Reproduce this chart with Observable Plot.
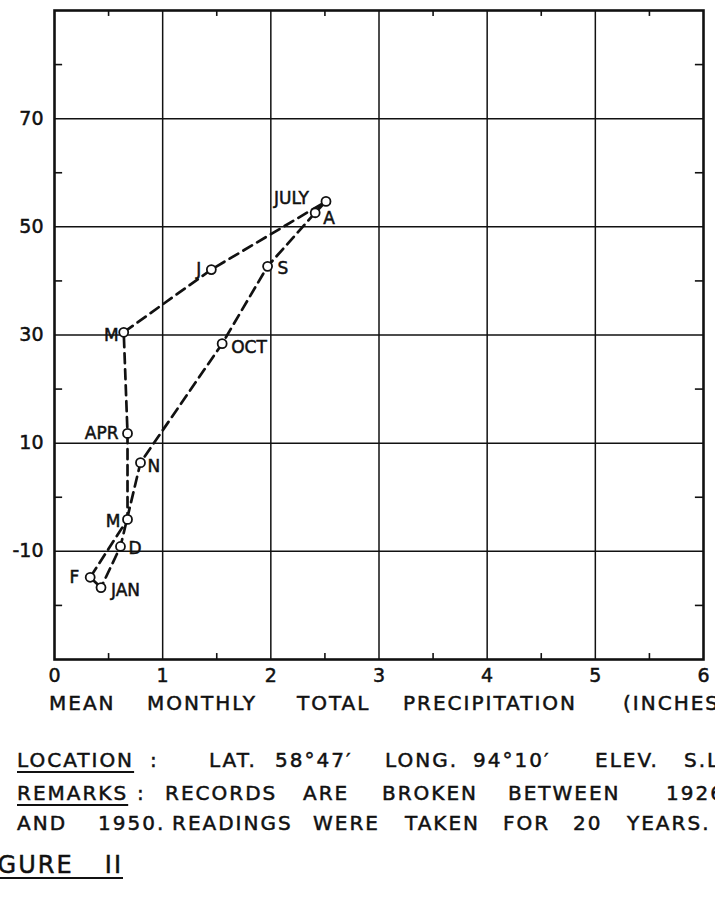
<!DOCTYPE html>
<html><head><meta charset="utf-8">
<script src="https://cdn.jsdelivr.net/npm/d3@7"></script>
<script src="https://cdn.jsdelivr.net/npm/@observablehq/plot@0.6"></script>
<style>
html,body{margin:0;padding:0;background:#fff;overflow:hidden;}
#wrap{position:relative;width:715px;height:899px;overflow:hidden;font-family:"DejaVu Sans",sans-serif;color:#111;}
#wrap svg{position:absolute;left:0;top:0;}
#wrap svg text{stroke:#111;stroke-width:0.5px;}
.w{position:absolute;white-space:pre;line-height:1;letter-spacing:2px;-webkit-text-stroke:0.5px #111;}
.u{text-decoration:underline;text-decoration-thickness:2px;text-underline-offset:4px;}
</style></head><body><div id="wrap"></div>
<script>
// ---- data ----
const months = ["JAN","FEB","MAR","APR","MAY","JUN","JUL","AUG","SEP","OCT","NOV","DEC"];
const labels = ["JAN","F","M","APR","M","J","JULY","A","S","OCT","N","D"];
const precip = [0.43, 0.33, 0.675, 0.675, 0.64, 1.45, 2.51, 2.41, 1.97, 1.55, 0.795, 0.61];
const temp   = [-16.7, -14.8, -4.1, 11.8, 30.5, 42.1, 54.7, 52.6, 42.7, 28.4, 6.4, -9.1];
const xTicks = [0, 1, 2, 3, 4, 5, 6];
const yTicks = [70, 50, 30, 10, -10];
const xMinor = [0.5, 1.5, 2.5, 3.5, 4.5, 5.5];
const yMinor = [80, 60, 40, 20, 0, -20];
const xTitle = ["MEAN", "MONTHLY", "TOTAL", "PRECIPITATION", "(INCHES)"];
const line1 = ["LOCATION", ":", "LAT.", "58°47′", "LONG.", "94°10′", "ELEV.", "S.L."];
const line2 = ["REMARKS", ":", "RECORDS", "ARE", "BROKEN", "BETWEEN", "1926"];
const line3 = ["AND", "1950.", "READINGS", "WERE", "TAKEN", "FOR", "20", "YEARS."];
const figTitle = "FIGURE  II";

// ---- label placement (style) ----
const place = {
  JAN:{a:"start",dx:10,dy:3}, FEB:{a:"end",dx:-11,dy:0}, MAR:{a:"end",dx:-7,dy:2},
  APR:{a:"end",dx:-9,dy:0}, MAY:{a:"end",dx:-5,dy:3}, JUN:{a:"end",dx:-10,dy:0},
  JUL:{a:"end",dx:-17,dy:-3}, AUG:{a:"start",dx:8,dy:6}, SEP:{a:"start",dx:10,dy:2},
  OCT:{a:"start",dx:9,dy:4}, NOV:{a:"start",dx:7,dy:4}, DEC:{a:"start",dx:8,dy:2}
};

const rows = months.map((m, i) => ({month: m, label: labels[i], x: precip[i], y: temp[i]}));
const loop = [...rows, rows[0]];

const labelMarks = rows.map(r => Plot.text([r], {
  x: "x", y: "y", text: "label", textAnchor: place[r.month].a,
  dx: place[r.month].dx, dy: place[r.month].dy, fontSize: 17, fill: "#111"
}));

const chart = Plot.plot({
  width: 715, height: 700,
  marginLeft: 54, marginRight: 12, marginTop: 10, marginBottom: 41,
  style: {fontFamily: "DejaVu Sans, sans-serif", fontSize: "19px", color: "#111", background: "white"},
  x: {domain: [0, 6]},
  y: {domain: [-30, 90]},
  marks: [
    Plot.ruleX(xTicks.slice(1, -1), {stroke: "#111", strokeWidth: 1.5}),
    Plot.ruleY(yTicks, {stroke: "#111", strokeWidth: 1.5}),
    Plot.ruleX(xMinor, {y1: -30, y2: -28.9, stroke: "#111", strokeWidth: 1.6}),
    Plot.ruleX(xMinor, {y1: 90, y2: 88.9, stroke: "#111", strokeWidth: 1.6}),
    Plot.ruleY(yMinor, {x1: 0, x2: 0.075, stroke: "#111", strokeWidth: 1.6}),
    Plot.ruleY(yMinor, {x1: 6, x2: 5.925, stroke: "#111", strokeWidth: 1.6}),
    Plot.frame({stroke: "#111", strokeWidth: 2.6}),
    Plot.axisX(xTicks, {tickSize: 0, tickPadding: 9, fontSize: 19, label: null, tickFormat: d => String(d)}),
    Plot.axisY(yTicks, {tickSize: 0, tickPadding: 11, fontSize: 19, label: null, tickFormat: d => String(d)}),
    Plot.line(loop, {x: "x", y: "y", stroke: "#111", strokeWidth: 2.7, strokeDasharray: "10,6"}),
    Plot.dot(rows, {x: "x", y: "y", r: 4.5, fill: "white", stroke: "#111", strokeWidth: 1.8}),
    ...labelMarks
  ]
});

const wrap = document.getElementById("wrap");
wrap.appendChild(chart);

function put(text, x, yc, size, cls) {
  const s = document.createElement("span");
  s.className = "w" + (cls ? " " + cls : "");
  s.textContent = text;
  s.style.fontSize = size + "px";
  s.style.left = x + "px";
  s.style.top = (yc - 0.48 * size) + "px";
  wrap.appendChild(s);
  return s;
}
function putLine(words, xs, yc, size, under) {
  words.forEach((w, i) => put(w, xs[i], yc, size, under.includes(i) ? "u" : ""));
}
putLine(xTitle, [49, 147, 297, 403, 623], 703, 20, []);
putLine(line1, [17, 150, 209, 275, 385, 473, 595, 684], 760, 20, [0]);
putLine(line2, [17, 137, 165, 303, 382, 508, 666], 793, 20, [0]);
putLine(line3, [17, 98, 172, 313, 405, 503, 573, 627], 823, 20, []);
const f = put(figTitle, 0, 865, 24, "u");
f.style.left = "auto";
f.style.right = (715 - 123) + "px";
f.style.wordSpacing = "6px";
</script></body></html>
